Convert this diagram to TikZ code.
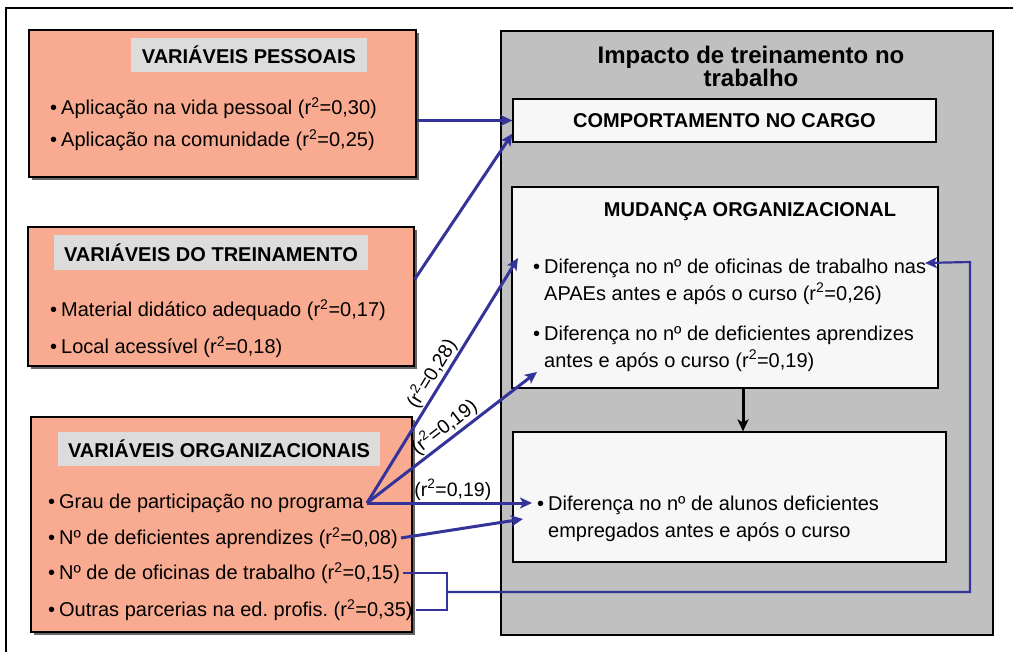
\documentclass[tikz,border=0pt]{standalone}
\usepackage{fontspec}
\setmainfont{Liberation Sans}
\usetikzlibrary{arrows.meta,shadows,calc,positioning}
\definecolor{salmao}{HTML}{F8AB91}
\definecolor{cinzaT}{HTML}{DCDCDC}
\definecolor{cinzaP}{HTML}{C0C0C0}
\definecolor{branco}{HTML}{F7F7F7}
\definecolor{azul}{HTML}{333399}
\newcommand\marca{\makebox[11pt][l]{•}}
\frenchspacing

\tikzset{
  varbox/.style={draw=black, line width=1.2pt, fill=salmao, inner sep=0pt,
    drop shadow={shadow xshift=3pt, shadow yshift=-3pt, fill=black!60, opacity=1}},
  vartitle/.style={fill=cinzaT, inner sep=0pt, font=\fontsize{20}{22}\selectfont\bfseries},
  item/.style={anchor=west, inner sep=3pt, font=\fontsize{20}{27}\selectfont, align=left},
  impbox/.style={draw=black, line width=1.2pt, fill=branco, inner sep=0pt},
  seta/.style={azul, line width=3pt, -{Stealth[length=12pt,width=11pt,inset=3pt]}},
  rlabel/.style={font=\fontsize{19.5}{21}\selectfont, inner sep=1pt, text=black},
}

\begin{document}
\begin{tikzpicture}[x=1pt,y=-1pt]
	\useasboundingbox (0,0) rectangle (1013,652);
	% moldura
	\draw[line width=1.2pt] (6,652) -- (6,8) -- (1013,8);

	% variaveis pessoais
	\node[varbox, minimum width=387pt, minimum height=147pt] (pess) at (222.5,103.5) {};
	\node[vartitle, minimum width=236pt, minimum height=34pt] (tpess) at (249,55) {VARIÁVEIS PESSOAIS};
	\node[item] (vida) at (47,108) {\marca Aplicação na vida pessoal (r\textsuperscript{2}=0,30)};
	\node[item] (comu) at (47,140) {\marca Aplicação na comunidade (r\textsuperscript{2}=0,25)};

	% variaveis do treinamento
	\node[varbox, minimum width=386pt, minimum height=139pt] (trei) at (221,296.5) {};
	\node[vartitle, minimum width=314pt, minimum height=35pt] (ttrei) at (211,252.5) {VARIÁVEIS DO TREINAMENTO};
	\node[item] (mat) at (47,310) {\marca Material didático adequado (r\textsuperscript{2}=0,17)};
	\node[item] (loc) at (47,347) {\marca Local acessível (r\textsuperscript{2}=0,18)};

	% variaveis organizacionais
	\node[varbox, minimum width=381pt, minimum height=215pt] (org) at (221.5,524.5) {};
	\node[vartitle, minimum width=322pt, minimum height=34pt] (torg) at (219,449) {VARIÁVEIS ORGANIZACIONAIS};
	\node[item] (grau) at (45,503) {\marca Grau de participação no programa};
	\node[item] (apr) at (45,538) {\marca Nº de deficientes aprendizes (r\textsuperscript{2}=0,08)};
	\node[item] (ofic) at (45,573) {\marca Nº de de oficinas de trabalho (r\textsuperscript{2}=0,15)};
	\node[item] (parc) at (45,610) {\marca Outras parcerias na ed. profis. (r\textsuperscript{2}=0,35)};

	% impacto
	\node[draw=black, line width=1.2pt, fill=cinzaP, minimum width=492pt, minimum height=604pt] (imp) at (747,333) {};
	\node[font=\fontsize{24}{23}\selectfont\bfseries, align=center] (timp) at (751,66) {Impacto de treinamento no\\trabalho};
	\node[impbox, minimum width=423pt, minimum height=43pt, font=\fontsize{20}{22}\selectfont\bfseries] (comp) at (724.5,120.5) {COMPORTAMENTO NO CARGO};
	\node[impbox, minimum width=426pt, minimum height=201pt] (mud) at (725,287.5) {};
	\node[font=\fontsize{20}{22}\selectfont\bfseries] (tmud) at (750,212) {MUDANÇA ORGANIZACIONAL};
	\node[item] (dif1) at (530,281.5) {\marca Diferença no nº de oficinas de trabalho nas\\\hphantom{\marca}APAEs antes e após o curso (r\textsuperscript{2}=0,26)};
	\node[item] (dif2) at (530,348.5) {\marca Diferença no nº de deficientes aprendizes\\\hphantom{\marca}antes e após o curso (r\textsuperscript{2}=0,19)};
	\node[impbox, minimum width=433pt, minimum height=130pt] (res) at (729.5,497) {};
	\node[item] (dif3) at (534,518.5) {\marca Diferença no nº de alunos deficientes\\\hphantom{\marca}empregados antes e após o curso};

	% setas
	\coordinate (a1) at (518,258);
	\coordinate (a2) at (537,372);
	\coordinate (a3) at (532,501);
	\coordinate (a4) at (523,519);
	\coordinate (a5) at (925,263);
	\coordinate (brk) at (447,592);
	\coordinate (volta) at (970,262);
	\draw[seta] (pess.east |- comp.west) -- (comp.west);
	\draw[seta] ([yshift=-53pt]trei.north east) -- ([yshift=9pt]comp.south west);
	\draw[seta] (grau.east) -- node[rlabel, sloped, above] {(r\textsuperscript{2}=0,28)} (a1);
	\draw[seta] (grau.east) -- node[rlabel, sloped, above] {(r\textsuperscript{2}=0,19)} (a2);
	\draw[seta] (grau.east) -- node[rlabel, above, pos=0.52] {(r\textsuperscript{2}=0,19)} (grau.east -| a3);
	\draw[seta] (apr.east) -- (a4);
	\draw[line width=3pt, -{Stealth[length=12pt,width=11pt,inset=3pt]}] (743,0 |- mud.south) -- (743,0 |- res.north);
	\draw[azul, line width=2.2pt] (ofic.east) -- (ofic.east -| brk) -- (parc.east -| brk) -- (parc.east);
	\draw[azul, line width=2.2pt, -{Stealth[length=12pt,width=11pt,inset=3pt]}] (brk) -| (volta) -- (a5);
\end{tikzpicture}
\end{document}
